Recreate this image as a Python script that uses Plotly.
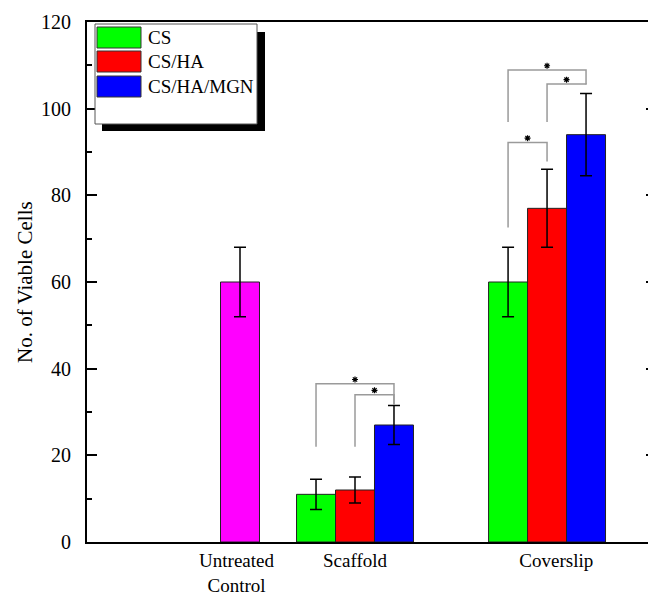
import plotly.graph_objects as go

# ---- data ----
groups = ["Scaffold", "Coverslip"]
series = ["CS", "CS/HA", "CS/HA/MGN"]
cs_vals = [11, 60]
cs_err = [3.5, 8]
csha_vals = [12, 77]
csha_err = [3, 9]
cshamgn_vals = [27, 94]
cshamgn_err = [4.5, 9.5]
control_val = [60]
control_err = [8]
tick_labels = ["Untreated<br>Control", "Scaffold", "Coverslip"]
y_ticks = [0, 20, 40, 60, 80, 100, 120]

# significance brackets: (group index, bar i, bar j, level, left end, right end)
brackets = [
    (0, 0, 2, 36.5, 22, 31.7),
    (0, 1, 2, 34.0, 22, 31.7),
    (1, 0, 2, 108.9, 96.9, 105.6),
    (1, 1, 2, 105.7, 96.9, 105.6),
    (1, 0, 1, 92.2, 72.6, 87.8),
]

# ---- layout constants (screen pixels; page body has an 8px margin) ----
OFF = 8
SW, SH = 656, 595
W, H = SW - OFF, SH - OFF
S_LEFT, S_TOP, S_BOTTOM = 87, 22, 542
L, R, T, B = S_LEFT - OFF, 0, S_TOP - OFF, SH - S_BOTTOM
control_pos = 1.0
group_pos = [2.0, 3.67]
label_pos = [0.97, 2.0, 3.75]
bw = 0.339
offsets = [-bw, 0, bw]
colors = ["#00ff00", "#ff0000", "#0000ff"]
FONT = "Liberation Serif, Times New Roman, serif"

pw = W - L - R
ph = H - T - B


def px(sx):
    return (sx - S_LEFT) / pw


def py(sy):
    return (S_BOTTOM - sy) / ph


fig = go.Figure()

err_style = dict(type="data", color="black", thickness=1.5, width=6, visible=True)
bar_line = dict(color="#222222", width=1)

fig.add_trace(go.Bar(
    x=[control_pos], y=control_val, width=bw,
    marker=dict(color="#ff00ff", line=bar_line),
    error_y=dict(array=control_err, **err_style),
    showlegend=False,
))

all_vals = [cs_vals, csha_vals, cshamgn_vals]
all_errs = [cs_err, csha_err, cshamgn_err]
for k, name in enumerate(series):
    fig.add_trace(go.Bar(
        x=[g + offsets[k] for g in group_pos], y=all_vals[k], width=bw,
        name=name,
        marker=dict(color=colors[k], line=bar_line),
        error_y=dict(array=all_errs[k], **err_style),
        showlegend=False,
    ))

# brackets
star_x, star_y = [], []
for gi, i, j, lvl, yl, yr in brackets:
    xl = group_pos[gi] + offsets[i]
    xr = group_pos[gi] + offsets[j]
    fig.add_shape(type="path",
                  path=f"M {xl},{yl} L {xl},{lvl} L {xr},{lvl} L {xr},{yr}",
                  xref="x", yref="y", line=dict(color="#9a9a9a", width=1.5))
    star_x.append((xl + xr) / 2)
    star_y.append(lvl + 1.0)

fig.add_trace(go.Scatter(
    x=star_x, y=star_y, mode="markers",
    marker=dict(symbol="asterisk-open", size=5, color="black",
                line=dict(color="black", width=1.2)),
    showlegend=False, hoverinfo="skip",
))

# legend (manual, with drop shadow)
fig.add_shape(type="rect", xref="paper", yref="paper",
              x0=px(102), x1=px(265), y0=py(131), y1=py(32),
              fillcolor="black", line=dict(width=0), layer="above")
fig.add_shape(type="rect", xref="paper", yref="paper",
              x0=px(95), x1=px(257), y0=py(124), y1=py(24),
              fillcolor="white", line=dict(color="#555555", width=1), layer="above")
rows = [(27, 48), (51, 72), (76, 97)]
for k, name in enumerate(series):
    y0, y1 = rows[k]
    fig.add_shape(type="rect", xref="paper", yref="paper",
                  x0=px(97), x1=px(141), y0=py(y1), y1=py(y0),
                  fillcolor=colors[k], line=dict(color="#333333", width=1), layer="above")
    fig.add_annotation(xref="paper", yref="paper", x=px(146), y=py((y0 + y1) / 2),
                       text=name, showarrow=False, xanchor="left", yanchor="middle",
                       font=dict(family=FONT, size=19, color="black"))

# y-axis title
fig.add_annotation(xref="paper", yref="paper", x=px(25), y=py(282),
                   text="No. of Viable Cells", textangle=-90, showarrow=False,
                   xanchor="center", yanchor="middle",
                   font=dict(family=FONT, size=21, color="black"))

fig.update_layout(
    width=W, height=H,
    margin=dict(l=L, r=R, t=T, b=B, pad=0, autoexpand=False),
    paper_bgcolor="white", plot_bgcolor="white",
    barmode="overlay",
    font=dict(family=FONT, size=20, color="black"),
    xaxis=dict(
        range=[control_pos - (240 - S_LEFT) / 115, control_pos + (SW - 240) / 115],
        tickvals=label_pos, ticktext=tick_labels, automargin=False,
        showline=True, linecolor="black", linewidth=2, mirror=True,
        ticks="", showgrid=False, zeroline=False,
        tickfont=dict(family=FONT, size=19, color="black"),
        ticklabelstandoff=0,
    ),
    yaxis=dict(
        range=[0, 120], tickvals=y_ticks, automargin=False,
        showline=True, linecolor="black", linewidth=2, mirror="ticks",
        ticks="inside", ticklen=10, tickwidth=1.5, tickcolor="black",
        minor=dict(dtick=10, ticks="inside", ticklen=5, tickwidth=1.5, tickcolor="black"),
        showgrid=False, zeroline=False,
        tickfont=dict(family=FONT, size=20, color="black"),
        ticklabelstandoff=10,
    ),
)

fig.write_html("out.html")
